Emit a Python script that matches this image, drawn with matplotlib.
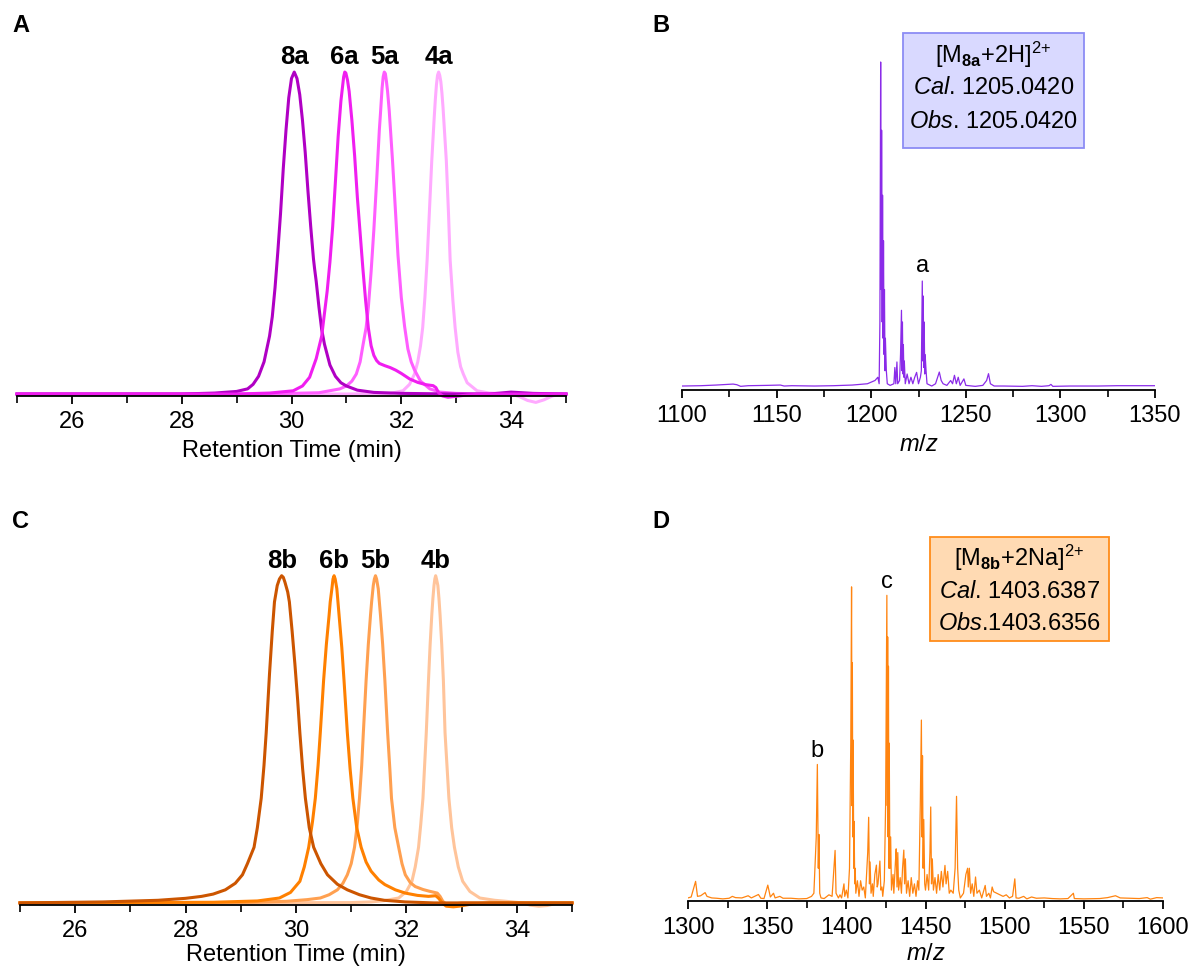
import numpy as np
import matplotlib
matplotlib.use("Agg")
import matplotlib.pyplot as plt
from matplotlib.patches import Rectangle

plt.rcParams['font.family'] = ['Liberation Sans', 'DejaVu Sans']
plt.rcParams['mathtext.fontset'] = 'custom'
plt.rcParams['mathtext.rm'] = 'Liberation Sans'
plt.rcParams['mathtext.it'] = 'Liberation Sans:italic'
plt.rcParams['mathtext.bf'] = 'Liberation Sans:bold'

# ---------------- HPLC traces, series "a" (retention time in min, normalised signal)
t_8a = [25.0, 28.0, 28.6, 29.0, 29.2, 29.3, 29.4, 29.5, 29.6, 29.65, 29.7, 29.75, 29.8, 29.85,
        29.9, 29.95, 30.0, 30.05, 30.1, 30.15, 30.2, 30.25, 30.3, 30.35, 30.4, 30.42, 30.45,
        30.5, 30.55, 30.6, 30.7, 30.8, 30.9, 31.0, 31.2, 31.5, 32.0, 33.0, 33.6, 34.0, 34.4, 35.0]
y_8a = [0.0, 0.0, 0.003, 0.008, 0.016, 0.03, 0.055, 0.10, 0.18, 0.24, 0.33, 0.44, 0.56, 0.70,
        0.82, 0.92, 0.98, 1.0, 0.98, 0.93, 0.85, 0.75, 0.63, 0.52, 0.42, 0.39, 0.35,
        0.27, 0.20, 0.155, 0.09, 0.055, 0.035, 0.025, 0.012, 0.005, 0.002, 0.0, 0.0, 0.006, 0.002, 0.0]

t_6a = [25.0, 29.0, 29.6, 30.03, 30.2, 30.33, 30.45, 30.55, 30.6, 30.65, 30.7, 30.75, 30.8, 30.85,
        30.9, 30.93, 30.95, 30.97, 30.99, 31.02, 31.05, 31.1, 31.15, 31.2, 31.25, 31.3, 31.35,
        31.4, 31.45, 31.5, 31.55, 31.6, 31.7, 31.8, 31.9, 32.0, 32.15, 32.3, 32.45, 32.58, 32.63,
        32.68, 32.75, 32.85, 33.0, 33.2, 33.5, 35.0]
y_6a = [0.0, 0.0, 0.003, 0.01, 0.025, 0.052, 0.11, 0.18, 0.25, 0.32, 0.41, 0.52, 0.66, 0.80,
        0.91, 0.955, 0.985, 1.0, 0.997, 0.975, 0.94, 0.85, 0.74, 0.61, 0.50, 0.39, 0.29,
        0.205, 0.15, 0.12, 0.104, 0.095, 0.088, 0.082, 0.074, 0.064, 0.047, 0.036, 0.029, 0.026, 0.02,
        0.004, -0.006, -0.01, -0.007, -0.003, 0.0, 0.0]

t_5a = [25.0, 29.5, 30.5, 30.88, 31.0, 31.1, 31.18, 31.25, 31.3, 31.36, 31.4, 31.45, 31.5, 31.55,
        31.6, 31.62, 31.65, 31.67, 31.69, 31.71, 31.73, 31.75, 31.78, 31.84, 31.9, 31.94, 32.0,
        32.06, 32.12, 32.18, 32.24, 32.35, 32.52, 32.7, 33.0, 33.5, 35.0]
y_5a = [0.0, 0.0, 0.004, 0.016, 0.025, 0.04, 0.062, 0.10, 0.15, 0.207, 0.27, 0.38, 0.51, 0.66,
        0.82, 0.87, 0.95, 0.985, 1.0, 0.995, 0.97, 0.94, 0.88, 0.725, 0.55, 0.43, 0.30,
        0.21, 0.14, 0.10, 0.075, 0.04, 0.016, 0.006, 0.002, 0.0, 0.0]

t_4a = [25.0, 31.0, 31.8, 32.03, 32.15, 32.24, 32.3, 32.35, 32.39, 32.43, 32.47, 32.51, 32.555,
        32.6, 32.62, 32.64, 32.66, 32.68, 32.7, 32.72, 32.74, 32.76, 32.82, 32.86, 32.89, 32.94,
        32.98, 33.03, 33.08, 33.13, 33.2, 33.38, 33.6, 34.0, 34.15, 34.3, 34.45, 34.6, 34.75,
        34.9, 35.0]
y_4a = [0.0, 0.0, 0.002, 0.01, 0.03, 0.062, 0.10, 0.15, 0.207, 0.30, 0.415, 0.56, 0.725,
        0.86, 0.915, 0.96, 0.99, 1.0, 0.99, 0.97, 0.935, 0.89, 0.725, 0.56, 0.415, 0.29,
        0.207, 0.13, 0.085, 0.062, 0.035, 0.01, 0.003, 0.0, -0.008, -0.02, -0.026, -0.018, -0.006,
        0.0, 0.0]

# ---------------- HPLC traces, series "b"
t_8b = [25.0, 26.5, 27.5, 28.0, 28.29, 28.5, 28.72, 28.9, 29.03, 29.12, 29.24, 29.3, 29.37, 29.42,
        29.46, 29.52, 29.57, 29.61, 29.66, 29.7, 29.74, 29.77, 29.8, 29.85, 29.88, 29.93, 29.98,
        30.03, 30.07, 30.12, 30.17, 30.24, 30.32, 30.45, 30.57, 30.75, 30.93, 31.15, 31.36, 31.6,
        31.98, 32.5, 35.0]
y_8b = [0.0, 0.003, 0.008, 0.014, 0.02, 0.027, 0.04, 0.06, 0.086, 0.12, 0.17, 0.23, 0.32, 0.42,
        0.52, 0.70, 0.83, 0.92, 0.97, 0.99, 1.0, 0.995, 0.98, 0.95, 0.92, 0.83, 0.73,
        0.62, 0.52, 0.41, 0.32, 0.23, 0.17, 0.12, 0.086, 0.057, 0.04, 0.025, 0.015, 0.008,
        0.003, 0.0, 0.0]

t_6b = [25.0, 28.5, 29.3, 29.7, 29.9, 30.07, 30.15, 30.23, 30.3, 30.35, 30.4, 30.44, 30.5, 30.55,
        30.6, 30.62, 30.65, 30.67, 30.69, 30.71, 30.74, 30.76, 30.78, 30.83, 30.87, 30.93, 30.98,
        31.03, 31.1, 31.18, 31.27, 31.36, 31.5, 31.61, 31.8, 31.98, 32.2, 32.4, 32.53, 32.58,
        32.65, 32.72, 32.85, 32.96, 33.2, 33.5, 35.0]
y_6b = [0.0, 0.002, 0.006, 0.015, 0.032, 0.066, 0.11, 0.17, 0.25, 0.32, 0.42, 0.52, 0.68, 0.79,
        0.88, 0.92, 0.96, 0.99, 1.0, 0.99, 0.96, 0.92, 0.88, 0.78, 0.68, 0.52, 0.41,
        0.32, 0.23, 0.17, 0.125, 0.097, 0.07, 0.056, 0.04, 0.03, 0.023, 0.02, 0.022, 0.015,
        0.0, -0.01, -0.012, -0.01, -0.003, 0.0, 0.0]

t_5b = [25.0, 29.0, 29.83, 30.2, 30.44, 30.6, 30.75, 30.85, 30.93, 31.0, 31.06, 31.11, 31.15, 31.19,
        31.22, 31.27, 31.31, 31.35, 31.37, 31.4, 31.42, 31.44, 31.46, 31.49, 31.51, 31.53, 31.57,
        31.61, 31.66, 31.7, 31.73, 31.79, 31.86, 31.92, 31.98, 32.07, 32.16, 32.3, 32.41, 32.56,
        32.61, 32.66, 32.72, 32.8, 33.0, 35.0]
y_5b = [0.0, 0.001, 0.005, 0.01, 0.015, 0.025, 0.04, 0.06, 0.086, 0.12, 0.17, 0.24, 0.32, 0.42,
        0.52, 0.68, 0.79, 0.88, 0.92, 0.97, 0.99, 1.0, 0.99, 0.96, 0.92, 0.88, 0.79,
        0.68, 0.52, 0.41, 0.32, 0.23, 0.17, 0.12, 0.086, 0.062, 0.05, 0.041, 0.036, 0.03,
        0.02, 0.005, -0.004, -0.005, 0.0, 0.0]

t_4b = [25.0, 31.0, 31.36, 31.6, 31.86, 32.0, 32.1, 32.16, 32.22, 32.26, 32.3, 32.33, 32.36, 32.4,
        32.43, 32.46, 32.48, 32.5, 32.515, 32.53, 32.545, 32.57, 32.59, 32.61, 32.64, 32.67, 32.7,
        32.735, 32.77, 32.82, 32.87, 32.94, 33.02, 33.15, 33.33, 33.6, 33.8, 34.1, 34.25, 34.4,
        34.55, 34.7, 34.85, 35.0]
y_4b = [0.0, 0.001, 0.003, 0.007, 0.015, 0.035, 0.066, 0.11, 0.17, 0.24, 0.32, 0.42, 0.52, 0.68,
        0.79, 0.88, 0.93, 0.97, 0.99, 1.0, 0.99, 0.97, 0.93, 0.88, 0.79, 0.68, 0.52,
        0.42, 0.32, 0.23, 0.17, 0.11, 0.066, 0.035, 0.015, 0.008, 0.005, 0.0, -0.007, -0.01,
        -0.008, -0.002, 0.0, 0.0]

names_a = ['8a', '6a', '5a', '4a']
names_b = ['8b', '6b', '5b', '4b']
colors_a = ['#B000C4', '#F01EF0', '#FF5EFF', '#FFAAFF']
colors_b = ['#CC5500', '#FF8000', '#FFA050', '#FFC49A']

# ---------------- ESI-MS profile, panel B (m/z, relative intensity)
mz_b = [1100, 1110, 1118, 1124, 1127, 1129, 1131, 1135, 1145, 1152, 1154, 1158, 1170, 1180, 1190,
        1198, 1202, 1203.5, 1204.2, 1204.6, 1205.0, 1205.3, 1205.5, 1205.8, 1206.0, 1206.3, 1206.5,
        1206.8, 1207.0, 1207.3, 1207.5, 1208, 1208.5, 1210, 1212, 1212.5, 1213, 1213.6, 1214, 1215,
        1215.5, 1216.0, 1216.3, 1216.5, 1216.8, 1217.0, 1217.3, 1217.5, 1218, 1219, 1220, 1221,
        1222, 1223, 1224, 1225, 1226, 1226.5, 1227.0, 1227.3, 1227.5, 1227.8, 1228.0, 1228.3,
        1228.5, 1229, 1229.5, 1232, 1234, 1236, 1237, 1238, 1240, 1242, 1243, 1244, 1245, 1246,
        1247, 1249, 1250, 1255, 1259, 1261, 1262, 1263, 1265, 1270, 1280, 1285, 1290, 1294, 1295,
        1296, 1305, 1320, 1330, 1350]
int_b = [0.003, 0.004, 0.006, 0.008, 0.009, 0.007, 0.002, 0.004, 0.005, 0.006, 0.003, 0.004, 0.003,
         0.004, 0.006, 0.01, 0.02, 0.03, 0.01, 0.2, 1.0, 0.3, 0.79, 0.2, 0.59, 0.15, 0.45,
         0.1, 0.3, 0.05, 0.15, 0.05, 0.01, 0.005, 0.01, 0.06, 0.01, 0.077, 0.01, 0.02,
         0.1, 0.236, 0.05, 0.2, 0.04, 0.13, 0.03, 0.08, 0.01, 0.04, 0.01, 0.03,
         0.01, 0.03, 0.045, 0.01, 0.03, 0.05, 0.326, 0.08, 0.28, 0.06, 0.2, 0.04,
         0.1, 0.05, 0.01, 0.003, 0.01, 0.046, 0.02, 0.01, 0.005, 0.02, 0.01, 0.036, 0.01, 0.03,
         0.005, 0.025, 0.005, 0.002, 0.005, 0.02, 0.041, 0.01, 0.003, 0.003, 0.002, 0.004, 0.002,
         0.004, 0.008, 0.002, 0.003, 0.003, 0.004, 0.004]

# ---------------- ESI-MS profile, panel D
mz_d = [1300, 1302, 1304.8, 1306, 1308, 1310.8, 1312, 1315, 1318, 1322, 1326, 1328, 1330, 1334, 1338,
        1340, 1344.5, 1346, 1348, 1350.4, 1352, 1354, 1355, 1358, 1360, 1365, 1370, 1375, 1378,
        1379.5, 1381.0, 1381.7, 1382.3, 1382.7, 1383.2, 1384, 1386, 1389, 1391, 1392.9, 1393.5,
        1395, 1396, 1397, 1398.5, 1399, 1400, 1401, 1402, 1402.8, 1403.3, 1403.6, 1403.8, 1404.1,
        1404.3, 1404.7, 1404.9, 1405.3, 1405.6, 1406, 1407, 1408, 1409, 1410, 1411, 1412, 1413.5,
        1414.1, 1414.6, 1415, 1415.6, 1416.5, 1417, 1418, 1419, 1419.5, 1420, 1421.2, 1421.8,
        1422.5, 1423, 1424, 1424.8, 1425.6, 1425.9, 1426.1, 1426.4, 1426.6, 1426.9, 1427.1,
        1427.5, 1428, 1428.5, 1429.5, 1430, 1431, 1431.5, 1432, 1432.5, 1433, 1434, 1434.8,
        1435.5, 1436.3, 1436.8, 1437.3, 1438, 1439, 1440, 1441, 1442, 1443, 1444, 1445, 1445.8,
        1446.7, 1447.4, 1447.8, 1448.1, 1448.5, 1448.9, 1449.5, 1450, 1451, 1452, 1452.8, 1453.3,
        1453.8, 1454.3, 1455, 1456, 1457, 1458, 1459, 1460, 1461, 1462.3, 1463, 1464, 1465, 1466,
        1467.5, 1468.7, 1469.6, 1470.3, 1471, 1472, 1474, 1475.5, 1476.6, 1477, 1477.7, 1478.5,
        1479.5, 1480.5, 1481.6, 1482.5, 1484, 1485.5, 1487.7, 1488.5, 1490, 1491, 1492.1, 1493,
        1495, 1497, 1499, 1501, 1503, 1505, 1506.4, 1507.2, 1509, 1512, 1514, 1517, 1520, 1525,
        1530, 1535, 1540, 1543.4, 1544, 1550, 1560, 1565, 1570, 1573, 1580, 1585, 1590, 1592,
        1596, 1600]
int_d = [0.005, 0.008, 0.058, 0.01, 0.012, 0.022, 0.01, 0.005, 0.004, 0.002, 0.004, 0.01, 0.006,
         0.005, 0.012, 0.005, 0.016, 0.004, 0.003, 0.046, 0.008, 0.02, 0.005, 0.01, 0.004, 0.004,
         0.002, 0.003, 0.01, 0.02, 0.2, 0.432, 0.1, 0.208, 0.02, 0.005, 0.003, 0.015, 0.01, 0.157,
         0.02, 0.005, 0.015, 0.005, 0.05, 0.01, 0.03, 0.005, 0.1, 0.5, 1.0, 0.3, 0.757, 0.2,
         0.51, 0.1, 0.25, 0.05, 0.1, 0.02, 0.06, 0.01, 0.06, 0.03, 0.04, 0.005, 0.15,
         0.263, 0.05, 0.12, 0.02, 0.05, 0.01, 0.08, 0.11, 0.04, 0.05, 0.123, 0.03,
         0.04, 0.01, 0.06, 0.3, 0.973, 0.3, 0.84, 0.2, 0.746, 0.1, 0.5,
         0.1, 0.2, 0.03, 0.08, 0.02, 0.12, 0.162, 0.04, 0.15, 0.03, 0.07, 0.02,
         0.1, 0.158, 0.05, 0.13, 0.02, 0.06, 0.01, 0.07, 0.02, 0.05, 0.01, 0.06, 0.03,
         0.3, 0.574, 0.2, 0.46, 0.1, 0.256, 0.05, 0.03, 0.08, 0.03, 0.15, 0.296,
         0.05, 0.13, 0.03, 0.07, 0.02, 0.08, 0.03, 0.09, 0.04, 0.109, 0.05, 0.09, 0.02, 0.03,
         0.02, 0.1, 0.33, 0.1, 0.03, 0.005, 0.02, 0.08, 0.10, 0.04, 0.10, 0.02,
         0.05, 0.01, 0.072, 0.02, 0.03, 0.005, 0.045, 0.01, 0.02, 0.005, 0.04, 0.025,
         0.02, 0.015, 0.01, 0.015, 0.005, 0.01, 0.066, 0.005, 0.004, 0.01, 0.002, 0.008, 0.004, 0.005,
         0.003, 0.002, 0.003, 0.02, 0.003, 0.002, 0.003, 0.006, 0.012, 0.005, 0.004, 0.003, 0.006, 0.001,
         0.006, 0.005]

peak_tags_b = [('a', 1227.0)]
peak_tags_d = [('b', 1381.7), ('c', 1425.6)]

W, H = 1192, 967
fig = plt.figure(figsize=(W / 100, H / 100), dpi=100)

FS = 17


def px_axes(x0, x1, ytop, ybot):
    return fig.add_axes([x0 / W, 1 - ybot / H, (x1 - x0) / W, (ybot - ytop) / H])


def style_axis(ax, xlim, ylim, spine_y, major, minor, xlabel, labelpad=5):
    ax.set_xlim(*xlim)
    ax.set_ylim(*ylim)
    for s in ('top', 'left', 'right'):
        ax.spines[s].set_visible(False)
    ax.spines['bottom'].set_position(('data', spine_y))
    ax.spines['bottom'].set_linewidth(1.3)
    ax.set_yticks([])
    ax.set_xticks(major)
    ax.set_xticks(minor, minor=True)
    ax.tick_params(axis='x', which='major', direction='out', length=6, width=1.3,
                   labelsize=FS, pad=5)
    ax.tick_params(axis='x', which='minor', direction='out', length=5, width=1.2)
    ax.set_xlabel(xlabel, fontsize=FS, labelpad=labelpad)
    ax.patch.set_visible(False)


def chromatogram(ax, traces, names, colors, order):
    for i in order:
        t, y = traces[i]
        ax.plot(t, y, color=colors[i], lw=2.2, solid_joinstyle='round', clip_on=False)
    for i in range(len(traces)):
        t, y = traces[i]
        k = int(np.argmax(y))
        ax.annotate(names[i], (t[k], y[k]), xytext=(0, 2), textcoords='offset points',
                    ha='center', va='bottom', fontsize=18.5, fontweight='bold')


# Panel A
axA = px_axes(17, 566, 33.4, 406.9)
style_axis(axA, (25, 35), (-0.04, 1.12), -0.006, [26, 28, 30, 32, 34], [25, 27, 29, 31, 33, 35],
           'Retention Time (min)')
chromatogram(axA, [(t_8a, y_8a), (t_6a, y_6a), (t_5a, y_5a), (t_4a, y_4a)],
             names_a, colors_a, [3, 2, 0, 1])

# Panel C
axC = px_axes(20, 572, 543.0, 916.0)
style_axis(axC, (25, 35), (-0.04, 1.1), -0.006, [26, 28, 30, 32, 34], [25, 27, 29, 31, 33, 35],
           'Retention Time (min)', labelpad=1)
chromatogram(axC, [(t_8b, y_8b), (t_6b, y_6b), (t_5b, y_5b), (t_4b, y_4b)],
             names_b, colors_b, [3, 2, 1, 0])

# Panel B
axB = px_axes(682, 1155, 29.5, 400)
style_axis(axB, (1100, 1350), (-0.04, 1.1), -0.009, np.arange(1100, 1351, 50),
           np.arange(1125, 1350, 50), '$m/z$')
axB.plot(mz_b, int_b, color='#8A2BE8', lw=0.9)
for tag, m in peak_tags_b:
    k = mz_b.index(m)
    axB.annotate(tag, (m, int_b[k]), xytext=(0, 3), textcoords='offset points',
                 ha='center', va='bottom', fontsize=FS)

# Panel D
axD = px_axes(688, 1163, 540, 912)
style_axis(axD, (1300, 1600), (-0.04, 1.15), -0.006, np.arange(1300, 1601, 50),
           np.arange(1325, 1600, 50), '$m/z$', labelpad=3)
axD.plot(mz_d, int_d, color='#FF8410', lw=0.9)
for tag, m in peak_tags_d:
    k = mz_d.index(m)
    axD.annotate(tag, (m, int_d[k]), xytext=(0, 2), textcoords='offset points',
                 ha='center', va='bottom', fontsize=FS)


def info_box(x0, x1, y0, y1, fc, ec, lines, ys):
    fig.add_artist(Rectangle((x0 / W, 1 - y1 / H), (x1 - x0) / W, (y1 - y0) / H,
                             transform=fig.transFigure, facecolor=fc, edgecolor=ec, lw=1.3))
    for s, yy in zip(lines, ys):
        fig.text((x0 + x1) / 2 / W, 1 - yy / H, s, ha='center', va='center', fontsize=FS)


info_box(903, 1084, 33, 148, '#D9D9FF', '#8C8CF5',
         [r'[M$_{\mathbf{8a}}$+2H]$^{2{+}}$', r'$\mathit{Cal}$. 1205.0420', r'$\mathit{Obs}$. 1205.0420'],
         [55, 88, 122])
info_box(930, 1109, 537, 641, '#FFDAB3', '#FF8C1A',
         [r'[M$_{\mathbf{8b}}$+2Na]$^{2{+}}$', r'$\mathit{Cal}$. 1403.6387', r'$\mathit{Obs}$.1403.6356'],
         [558, 592, 624])

for letter, x, y in [('A', 12, 25), ('B', 652, 25), ('C', 12, 522), ('D', 652, 522)]:
    fig.text(x / W, 1 - y / H, letter, ha='left', va='center', fontsize=17, fontweight='bold')

fig.savefig('out.png', dpi=100)
